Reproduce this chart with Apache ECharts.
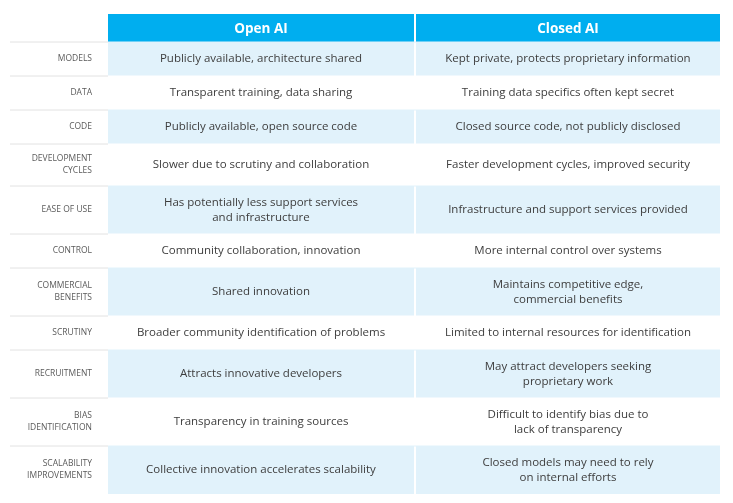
<!DOCTYPE html>
<html><head><meta charset="utf-8">
<script src="https://cdn.jsdelivr.net/npm/echarts@6/dist/echarts.min.js"></script>
<style>html,body{margin:0;background:#fff}#c{width:733px;height:503px}</style>
</head><body><div id="c"></div>
<script>
const headers = ["", "Open AI", "Closed AI"];
const rowLabels = ["MODELS","DATA","CODE","DEVELOPMENT\nCYCLES","EASE OF USE","CONTROL","COMMERCIAL\nBENEFITS","SCRUTINY","RECRUITMENT","BIAS\nIDENTIFICATION","SCALABILITY\nIMPROVEMENTS"];
const openAI = ["Publicly available, architecture shared","Transparent training, data sharing","Publicly available, open source code","Slower due to scrutiny and collaboration","Has potentially less support services\nand infrastructure","Community collaboration, innovation","Shared innovation","Broader community identification of problems","Attracts innovative developers","Transparency in training sources","Collective innovation accelerates scalability"];
const closedAI = ["Kept private, protects proprietary information","Training data specifics often kept secret","Closed source code, not publicly disclosed","Faster development cycles, improved security","Infrastructure and support services provided","More internal control over systems","Maintains competitive edge,\ncommercial benefits","Limited to internal resources for identification","May attract developers seeking\nproprietary work","Difficult to identify bias due to\nlack of transparency","Closed models may need to rely\non internal efforts"];

const colW = [98, 306, 306];
const headerH = 28;
const lines = s => s.split("\n").length;
const rowH = rowLabels.map((l,i) => {
  const c = Math.max(lines(openAI[i]), lines(closedAI[i]));
  if (c > 1) return 48;
  if (lines(l) > 1) return 42;
  return 34;
});
const rowTop = [headerH];
rowH.forEach((h,i)=>rowTop.push(rowTop[i]+h));
const totalH = rowTop[rowTop.length-1];
const colX = [0]; colW.forEach((w,i)=>colX.push(colX[i]+w));
const totalW = colX[3];

const cells = [];
for (let c=1;c<3;c++) cells.push([-1,c]);
for (let r=0;r<rowLabels.length;r++) for (let c=0;c<3;c++) cells.push([r,c]);

function textOf(r,c){ if(r<0) return headers[c]; return [rowLabels,openAI,closedAI][c][r]; }

const chart = echarts.init(document.getElementById('c'));
chart.setOption({
  animation:false,
  grid:{left:10,right:13,top:14,bottom:9},
  xAxis:{type:'value',min:0,max:totalW,show:false},
  yAxis:{type:'value',min:0,max:totalH,inverse:true,show:false},
  series:[{
    type:'custom',
    data:cells,
    renderItem:(params,api)=>{
      const r=api.value(0), c=api.value(1);
      const y0 = r<0?0:rowTop[r], y1 = r<0?headerH:rowTop[r+1];
      const p0 = api.coord([colX[c], y0]), p1 = api.coord([colX[c+1], y1]);
      const x=p0[0], y=p0[1], w=p1[0]-p0[0], h=p1[1]-p0[1];
      const children=[];
      let fill = '#fff';
      if (r<0) fill='#00aeef';
      else if (c>0 && r%2===0) fill='#e1f2fb';
      const gapL = c===2?2:0;
      children.push({type:'rect',shape:{x:x+gapL,y:y,width:w-gapL,height:h},style:{fill}});
      if (r>=0) children.push({type:'line',shape:{x1:x,y1:y,x2:x+w,y2:y},style:{stroke: c===0?'#e2e2e2':(r%2===0?'#e1f2fb':'#fff'),lineWidth:1}});
      if (c===0) {
        children.push({type:'text',style:{text:textOf(r,c),x:x+w-16,y:y+h/2,align:'right',verticalAlign:'middle',fill:'#5a5a5a',font:'8.5px "Open Sans", sans-serif',lineHeight:12}});
      } else if (r<0) {
        children.push({type:'text',style:{text:textOf(r,c),x:x+w/2+gapL/2,y:y+h/2+1,align:'center',verticalAlign:'middle',fill:'#fff',font:'bold 13.5px "Open Sans", sans-serif'}});
      } else {
        children.push({type:'text',style:{text:textOf(r,c),x:x+w/2+gapL/2,y:y+h/2,align:'center',verticalAlign:'middle',fill:'#3d3d3d',font:'11.5px "Open Sans", sans-serif',lineHeight:15}});
      }
      return {type:'group',children};
    }
  }]
});
</script></body></html>
